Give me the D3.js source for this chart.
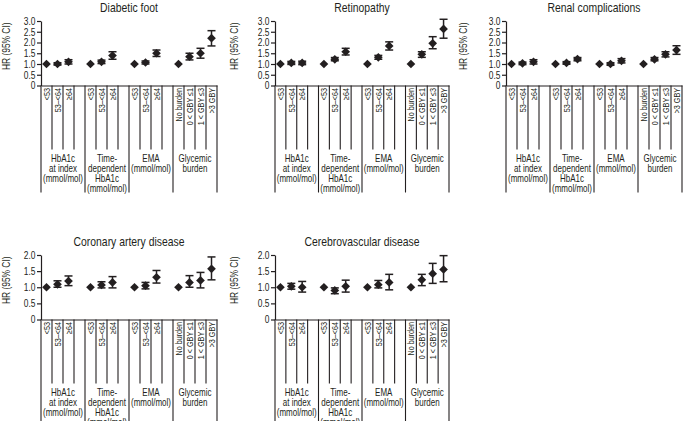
<!DOCTYPE html>
<html>
<head>
<meta charset="utf-8">
<script src="https://cdn.jsdelivr.net/npm/d3@7"></script>
<style>
  html, body { margin: 0; padding: 0; background: #fff; }
  svg { display: block; }
  text { font-family: "Liberation Sans", Arial, sans-serif; fill: #231f20; -webkit-font-smoothing: antialiased; }
</style>
</head>
<body>
<svg id="chart" width="685" height="421"></svg>
<script>
// ---------- data ----------
const panelTitles = ["Diabetic foot", "Retinopathy", "Renal complications", "Coronary artery disease", "Cerebrovascular disease"];
const yMaxValues = [3, 3, 3, 2, 2];
const yTickStep = 0.5;

const groupLabels = [
  ["HbA1c", "at index", "(mmol/mol)"],
  ["Time-", "dependent", "HbA1c", "(mmol/mol)"],
  ["EMA", "(mmol/mol)"],
  ["Glycemic", "burden"]
];
const categoryLabels = [
  ["<53", "53–<64", "≥64"],
  ["<53", "53–<64", "≥64"],
  ["<53", "53–<64", "≥64"],
  ["No burden", "0 < GBY ≤1", "1 < GBY ≤3", ">3 GBY"]
];

// HR, lower and upper 95% CI, in category order (13 categories)
const diabeticFootHR = [1.00, 1.00, 1.10, 1.00, 1.10, 1.39, 1.00, 1.07, 1.50, 1.00, 1.34, 1.50, 2.20];
const diabeticFootLo = [1.00, 0.95, 1.00, 1.00, 1.02, 1.22, 1.00, 1.00, 1.35, 1.00, 1.19, 1.27, 1.84];
const diabeticFootHi = [1.00, 1.06, 1.20, 1.00, 1.18, 1.57, 1.00, 1.14, 1.65, 1.00, 1.50, 1.73, 2.55];

const retinopathyHR = [1.00, 1.05, 1.05, 1.00, 1.22, 1.57, 1.00, 1.31, 1.84, 1.00, 1.45, 1.96, 2.63];
const retinopathyLo = [1.00, 0.98, 0.97, 1.00, 1.15, 1.42, 1.00, 1.22, 1.65, 1.00, 1.31, 1.71, 2.20];
const retinopathyHi = [1.00, 1.12, 1.13, 1.00, 1.30, 1.73, 1.00, 1.40, 2.03, 1.00, 1.57, 2.27, 3.08];

const renalHR = [1.00, 1.03, 1.10, 1.00, 1.05, 1.23, 1.00, 1.00, 1.15, 1.00, 1.22, 1.45, 1.65];
const renalLo = [1.00, 0.97, 1.00, 1.00, 0.99, 1.15, 1.00, 0.94, 1.05, 1.00, 1.15, 1.33, 1.45];
const renalHi = [1.00, 1.09, 1.20, 1.00, 1.11, 1.30, 1.00, 1.06, 1.25, 1.00, 1.30, 1.57, 1.85];

const coronaryHR = [1.00, 1.09, 1.19, 1.00, 1.07, 1.15, 1.00, 1.05, 1.31, 1.00, 1.15, 1.21, 1.57];
const coronaryLo = [1.00, 1.00, 1.05, 1.00, 0.98, 0.98, 1.00, 0.95, 1.13, 1.00, 1.00, 0.98, 1.23];
const coronaryHi = [1.00, 1.20, 1.35, 1.00, 1.17, 1.33, 1.00, 1.15, 1.52, 1.00, 1.36, 1.46, 1.94];

const cerebroHR = [1.00, 1.03, 1.00, 1.00, 0.90, 1.03, 1.00, 1.08, 1.15, 1.00, 1.23, 1.42, 1.55];
const cerebroLo = [1.00, 0.94, 0.85, 1.00, 0.80, 0.85, 1.00, 0.98, 0.92, 1.00, 1.05, 1.12, 1.17];
const cerebroHi = [1.00, 1.12, 1.18, 1.00, 0.98, 1.22, 1.00, 1.21, 1.40, 1.00, 1.40, 1.74, 1.98];

const seriesHR = [diabeticFootHR, retinopathyHR, renalHR, coronaryHR, cerebroHR];
const seriesLo = [diabeticFootLo, retinopathyLo, renalLo, coronaryLo, cerebroLo];
const seriesHi = [diabeticFootHi, retinopathyHi, renalHi, coronaryHi, cerebroHi];

// ---------- layout ----------
const layout = [
  { x0: 41,  width: 176, top: 21,  bottom: 85.5,  labelX: 9.5 },
  { x0: 275, width: 174, top: 21,  bottom: 85.5,  labelX: 237.5 },
  { x0: 506, width: 176, top: 21,  bottom: 85.5,  labelX: 467 },
  { x0: 41,  width: 176, top: 255, bottom: 319.5, labelX: 9.5 },
  { x0: 275, width: 174, top: 255, bottom: 319.5, labelX: 237.5 }
];
const slotsPerGroup = 4;
const ink = "#231f20";
const narrow = 0.8; // horizontal condensing of the sans font

const svg = d3.select("#chart");

function addText(parent, x, y, rot, str, size, anchor) {
  return parent.append("text")
    .attr("transform", `translate(${x},${y})${rot ? ` rotate(${rot})` : ""} scale(${narrow},1)`)
    .attr("text-anchor", anchor || "middle")
    .style("font-size", size + "px")
    .text(str);
}

// slots: group g, category i -> slot g*4+i
const slotIds = d3.range(groupLabels.length * slotsPerGroup);

panelTitles.forEach((title, p) => {
  const L = layout[p];
  const g = svg.append("g");

  const x = d3.scaleBand().domain(slotIds).range([L.x0, L.x0 + L.width]).padding(0);
  const y = d3.scaleLinear().domain([0, yMaxValues[p]]).range([L.bottom, L.top]);
  const bw = x.bandwidth();

  const rows = [];
  categoryLabels.forEach((cats, gi) => cats.forEach((c, ci) => rows.push({ gi, ci, label: c, slot: gi * slotsPerGroup + ci })));
  rows.forEach((r, k) => { r.hr = seriesHR[p][k]; r.lo = seriesLo[p][k]; r.hi = seriesHi[p][k]; });

  // title
  addText(g, L.x0 + L.width / 2, L.top - 9.5, 0, title, 13, "middle");

  // y axis
  const ticks = d3.range(0, yMaxValues[p] + 1e-9, yTickStep);
  const yAxis = d3.axisLeft(y).tickValues(ticks).tickSize(4).tickSizeOuter(0).tickPadding(1.5)
    .tickFormat(v => v === 0 ? "0" : d3.format(".1f")(v));
  const ya = g.append("g").attr("transform", `translate(${L.x0},0)`).call(yAxis);
  ya.selectAll("text")
    .style("font-size", "10.5px").style("font-family", null).attr("fill", ink)
    .attr("x", 0).attr("transform", `translate(-5.5,0) scale(${narrow},1)`);
  ya.selectAll("line, path").attr("stroke", ink).attr("stroke-width", 1.2);

  // y label
  addText(g, L.labelX, (L.top + L.bottom) / 2 - 7, -90, "HR (95% CI)", 10.5, "middle");

  // x axis baseline
  const xAxis = d3.axisBottom(x).tickValues([]).tickSizeOuter(0);
  const xa = g.append("g").attr("transform", `translate(0,${L.bottom})`).call(xAxis);
  xa.selectAll("path").attr("stroke", ink).attr("stroke-width", 1.2);

  // table lines
  const shortLen = 64, longLen = 107;
  const longXs = groupLabels.map((_, gi) => x(gi * slotsPerGroup)).concat([L.x0 + L.width]);
  g.selectAll(".long").data(longXs).join("line")
    .attr("x1", d => d).attr("x2", d => d)
    .attr("y1", L.bottom).attr("y2", L.bottom + longLen)
    .attr("stroke", ink).attr("stroke-width", 1.1);
  const shortXs = rows.map(r => x(r.slot) + bw).filter(v => Math.abs(v - (L.x0 + L.width)) > 0.5);
  g.selectAll(".short").data(shortXs).join("line")
    .attr("x1", d => d).attr("x2", d => d)
    .attr("y1", L.bottom).attr("y2", L.bottom + shortLen)
    .attr("stroke", ink).attr("stroke-width", 1.1);

  // category labels (rotated)
  rows.forEach(d => {
    addText(g, x(d.slot) + bw / 2 + 3.3, L.bottom + 2.5, -90, d.label, 9, "end");
  });

  // group labels
  groupLabels.forEach((lines, gi) => {
    const cx = x(gi * slotsPerGroup) + (bw * slotsPerGroup) / 2;
    lines.forEach((ln, li) => {
      addText(g, cx, L.bottom + 76 + li * 10.3, 0, ln, 10, "middle");
    });
  });

  // error bars
  const eb = g.selectAll(".eb").data(rows.filter(r => r.hi - r.lo > 0)).join("g");
  eb.append("line")
    .attr("x1", d => x(d.slot) + bw / 2).attr("x2", d => x(d.slot) + bw / 2)
    .attr("y1", d => y(d.lo)).attr("y2", d => y(d.hi))
    .attr("stroke", ink).attr("stroke-width", 1.5);
  ["lo", "hi"].forEach(k => {
    eb.append("line")
      .attr("x1", d => x(d.slot) + bw / 2 - 4).attr("x2", d => x(d.slot) + bw / 2 + 4)
      .attr("y1", d => y(d[k])).attr("y2", d => y(d[k]))
      .attr("stroke", ink).attr("stroke-width", 1.5);
  });

  // diamonds
  g.selectAll(".pt").data(rows).join("path")
    .attr("d", d3.symbol().type(d3.symbolSquare).size(38))
    .attr("transform", d => `translate(${x(d.slot) + bw / 2},${y(d.hr)}) rotate(45)`)
    .attr("fill", ink);
});
</script>
</body>
</html>
